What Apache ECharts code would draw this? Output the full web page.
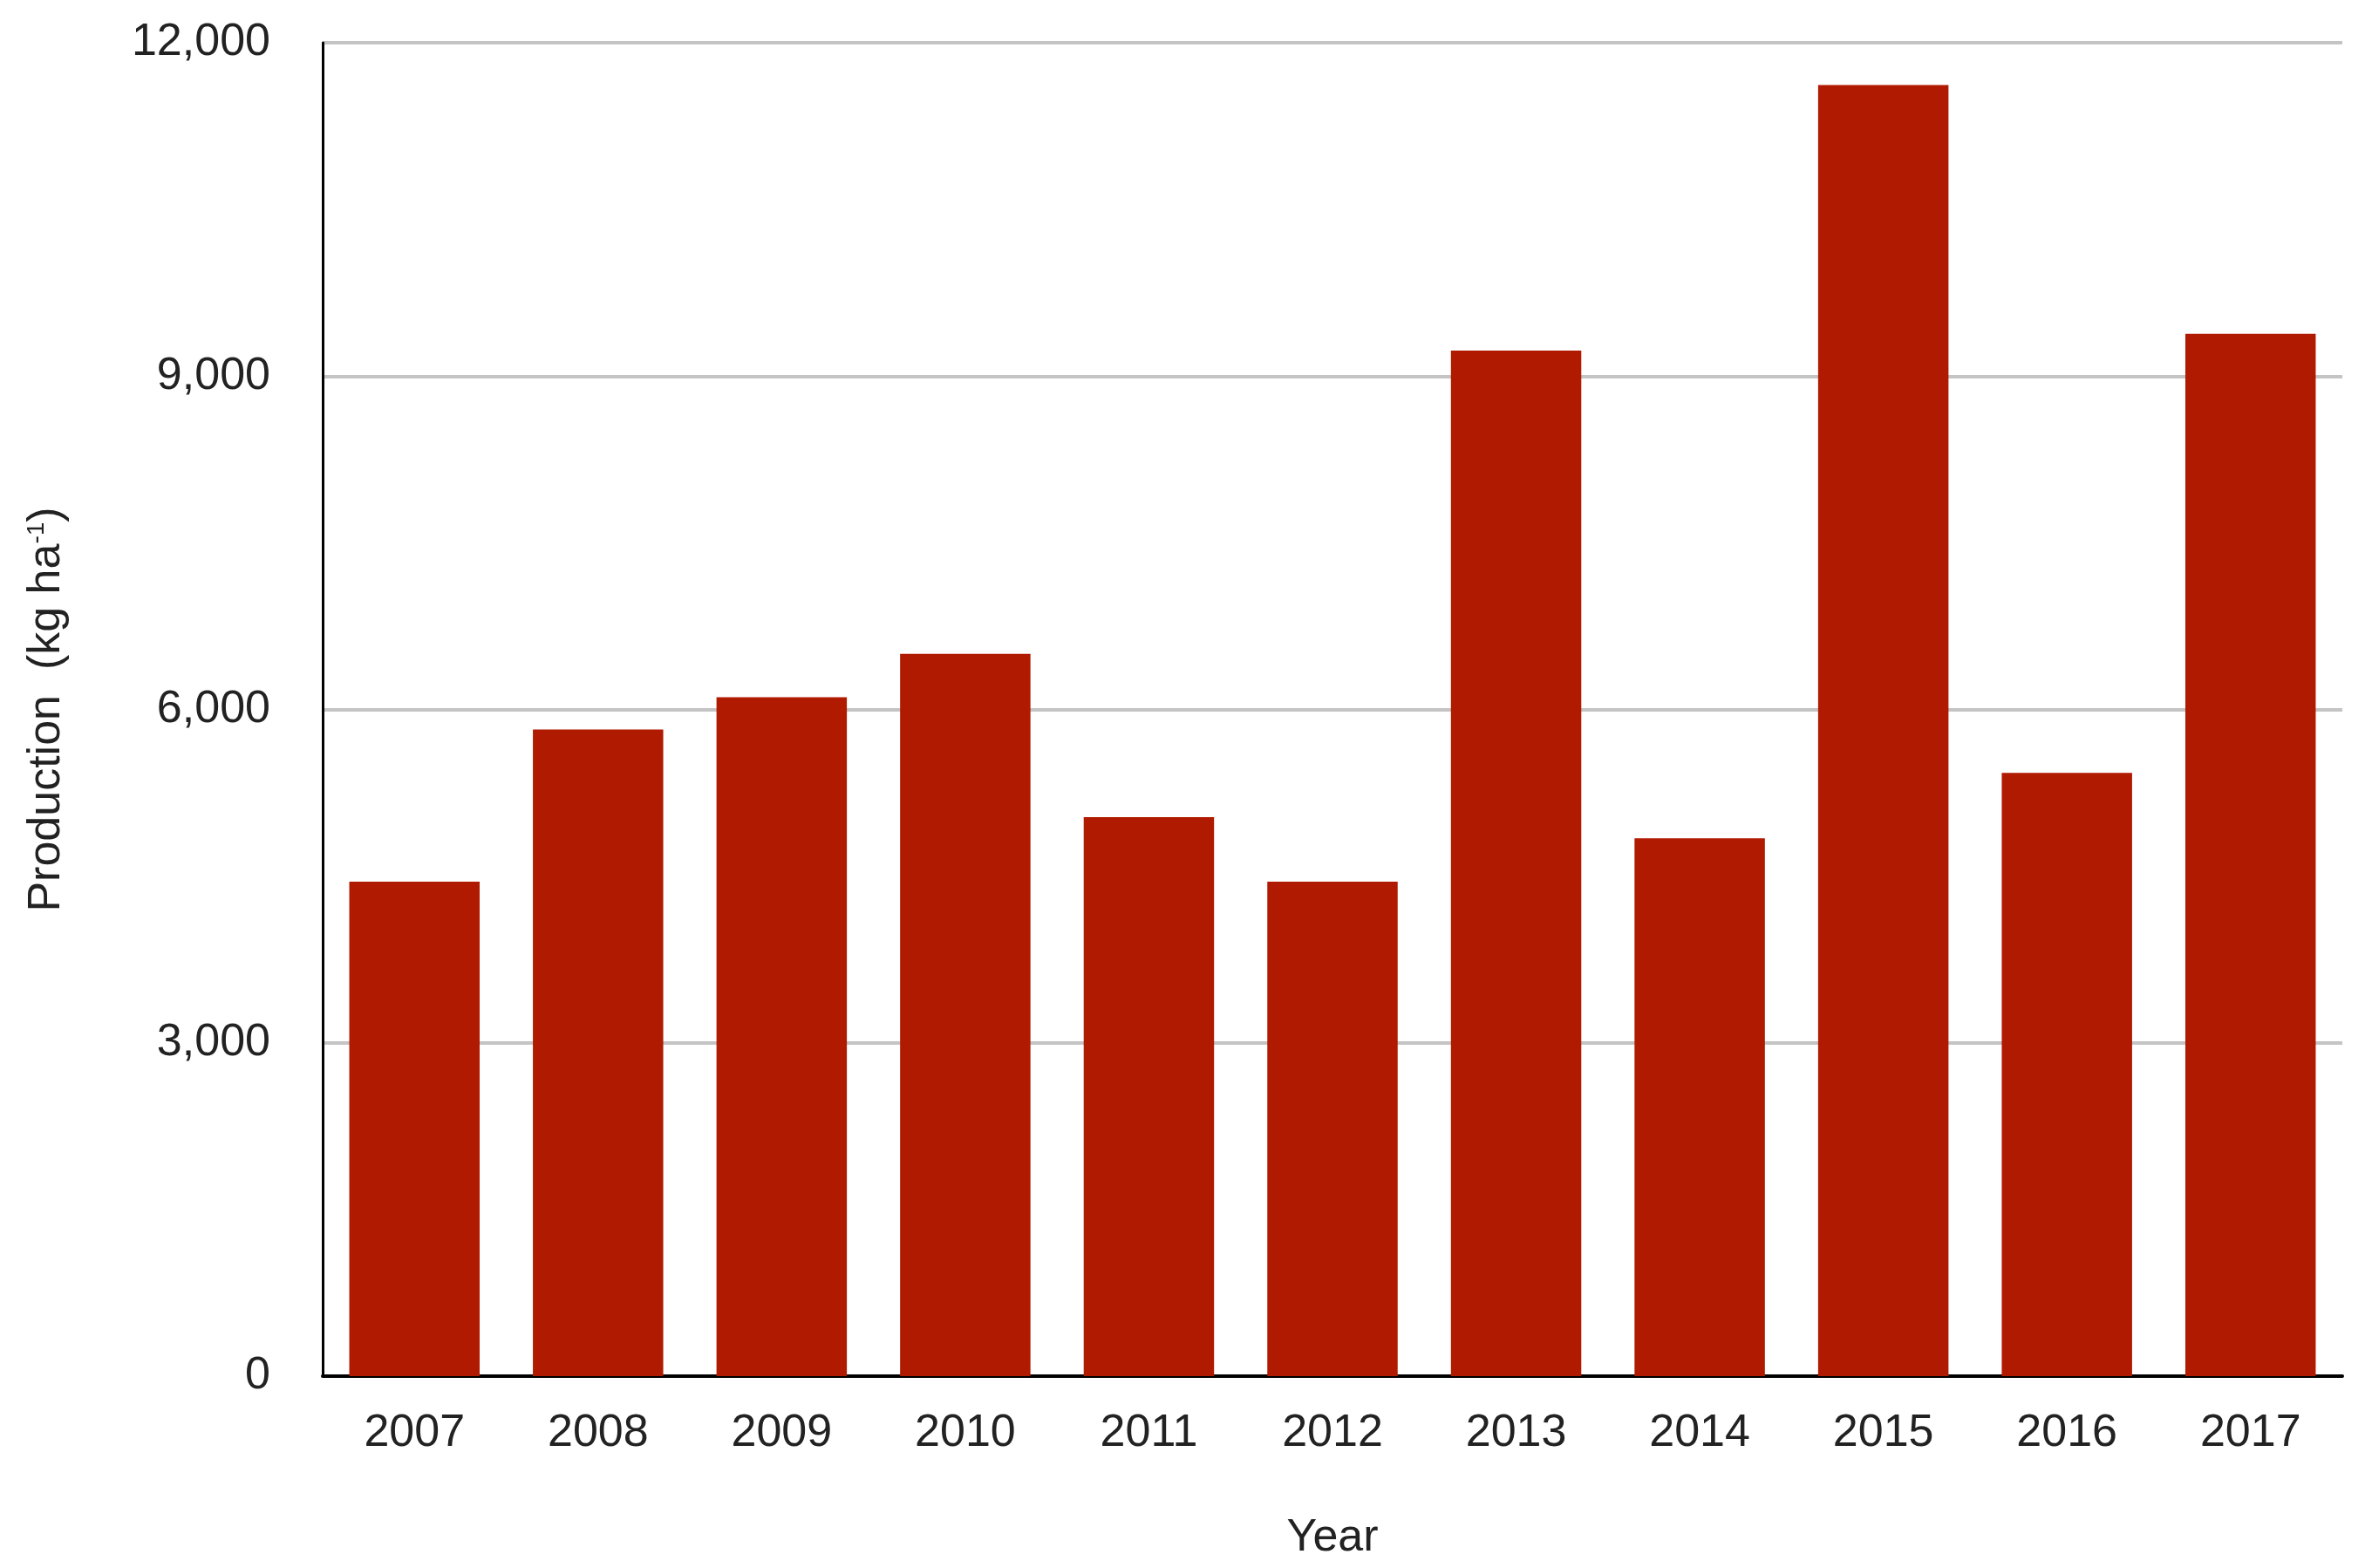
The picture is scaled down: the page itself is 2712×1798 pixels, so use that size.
<!DOCTYPE html>
<html>
<head>
<meta charset="utf-8">
<script src="https://cdn.jsdelivr.net/npm/echarts@6/dist/echarts.min.js"></script>
<style>html,body{margin:0;padding:0;background:#fff}#chart{width:2712px;height:1798px}</style>
</head>
<body>
<div id="chart"></div>
<script>
var years = ['2007','2008','2009','2010','2011','2012','2013','2014','2015','2016','2017'];
var production = [4450, 5820, 6110, 6500, 5030, 4450, 9230, 4840, 11620, 5430, 9380];
var yTicks = [0, 3000, 6000, 9000, 12000];

var chart = echarts.init(document.getElementById('chart'));
var font = 'Liberation Sans, Arial, sans-serif';
chart.setOption({
    animation: false,
    grid: { left: 370, right: 26, top: 49, bottom: 220 },
    xAxis: {
        type: 'category',
        data: years,
        name: 'Year',
        nameLocation: 'middle',
        nameGap: 160,
        nameTextStyle: { fontSize: 52, color: '#222', fontFamily: font },
        axisTick: { show: false },
        axisLine: { lineStyle: { color: '#000', width: 4 } },
        axisLabel: { fontSize: 52, color: '#222', margin: 40, fontFamily: font }
    },
    yAxis: {
        type: 'value',
        min: yTicks[0],
        max: yTicks[yTicks.length - 1],
        interval: 3000,
        name: '{a|Production  (kg ha}{s|-1}{a|)}',
        nameLocation: 'middle',
        nameGap: 290,
        nameTextStyle: {
            rich: {
                a: { fontSize: 52, color: '#222', fontFamily: font },
                s: { fontSize: 28, color: '#222', fontFamily: font, verticalAlign: 'top', padding: [0, 0, 24, 0] }
            }
        },
        axisLine: { show: true, lineStyle: { color: '#000', width: 3 } },
        axisTick: { show: false },
        axisLabel: { fontSize: 52, color: '#222', margin: 60, fontFamily: font },
        splitLine: { lineStyle: { color: '#c4c4c4', width: 4 } }
    },
    series: [{
        type: 'bar',
        data: production,
        barWidth: '71%',
        itemStyle: { color: '#b01a00' }
    }]
});
</script>
</body>
</html>
